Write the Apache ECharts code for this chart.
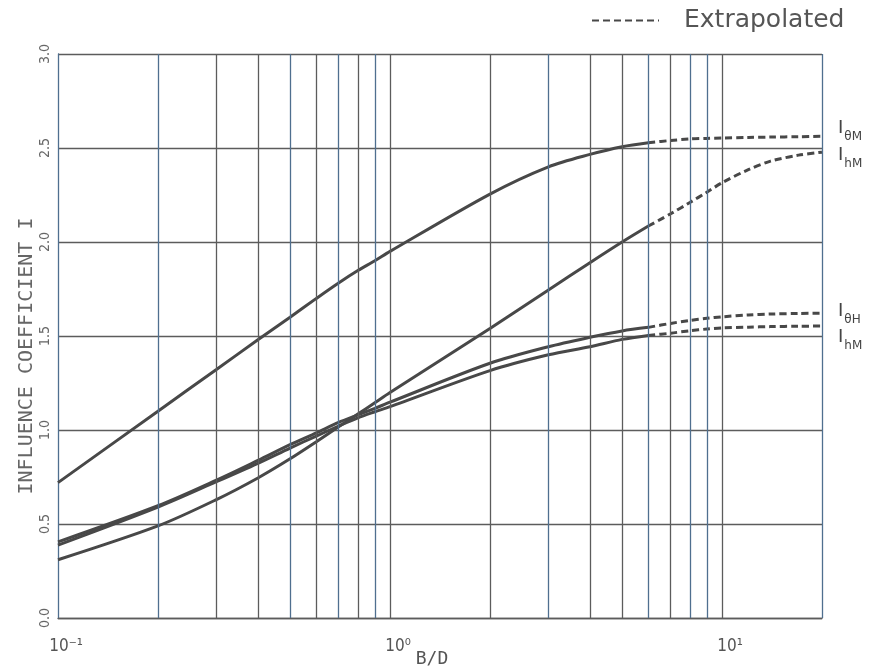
<!DOCTYPE html>
<html>
<head>
<meta charset="utf-8">
<script src="https://cdn.jsdelivr.net/npm/echarts@6/dist/echarts.min.js"></script>
<style>html,body{margin:0;padding:0;background:#fff;}#c{width:873px;height:671px;}</style>
</head>
<body>
<div id="c"></div>
<script>
// ---- data ----
const xSolid = [0.1, 0.2, 0.3, 0.4, 0.5, 0.6, 0.7, 0.8, 0.9, 1, 2, 3, 4, 5, 6];
const xDash = [6, 7, 8, 9, 10, 12, 14, 17, 20];

const thetaMSolid = [0.72, 1.10, 1.322, 1.48, 1.60, 1.70, 1.782, 1.848, 1.90, 1.95, 2.255, 2.40, 2.466, 2.507, 2.528];
const thetaMDash = [2.528, 2.54, 2.548, 2.551, 2.553, 2.556, 2.558, 2.56, 2.562];

const hMUpperSolid = [0.31, 0.49, 0.63, 0.745, 0.847, 0.938, 1.017, 1.085, 1.145, 1.199, 1.54, 1.745, 1.89, 2.0, 2.085];
const hMUpperDash = [2.085, 2.15, 2.21, 2.265, 2.315, 2.385, 2.43, 2.462, 2.478];

const thetaHSolid = [0.405, 0.597, 0.733, 0.838, 0.922, 0.985, 1.04, 1.08, 1.115, 1.148, 1.355, 1.443, 1.493, 1.527, 1.546];
const thetaHDash = [1.546, 1.567, 1.583, 1.594, 1.602, 1.612, 1.617, 1.62, 1.621];

const hMLowerSolid = [0.388, 0.59, 0.725, 0.823, 0.904, 0.968, 1.021, 1.065, 1.097, 1.124, 1.316, 1.40, 1.443, 1.482, 1.503];
const hMLowerDash = [1.503, 1.515, 1.528, 1.537, 1.543, 1.547, 1.55, 1.552, 1.553];

const curveNames = ['θM', 'hM', 'θH', 'hM'];

const xTickValues = [0.1, 1, 10];
const xTickLabels = ['10⁻¹', '10⁰', '10¹'];
const xGridBlue = [0.2, 0.5, 0.7, 0.9, 3, 6, 8, 9, 20];
const xGridGray = [0.3, 0.4, 0.6, 0.8, 1, 2, 4, 5, 7, 10];

const yTicks = [0, 0.5, 1.0, 1.5, 2.0, 2.5, 3.0];

// ---- chart ----
const pairs = (xs, ys) => xs.map((x, i) => [x, ys[i]]);
const CURVE = '#484848';
const BLUE = '#4f6f8f';
const GRAY = '#5c5c5c';

const solids = [thetaMSolid, hMUpperSolid, thetaHSolid, hMLowerSolid];
const dashes = [thetaMDash, hMUpperDash, thetaHDash, hMLowerDash];
const labelOffsets = [[0, -6], [0, 5], [0, 0], [0, 13]];

const series = [];
series.push({
  type: 'line', name: 'grid', data: [], silent: true, z: 1,
  markLine: {
    silent: true, symbol: 'none', animation: false,
    label: { show: false },
    data: xGridBlue.map(v => ({ xAxis: v, lineStyle: { color: BLUE, width: 1.3, type: 'solid' } }))
      .concat(xGridGray.map(v => ({ xAxis: v, lineStyle: { color: GRAY, width: 1.3, type: 'solid' } })))
  }
});
solids.forEach((ys, k) => {
  series.push({
    type: 'line', name: 'I' + curveNames[k] + ' measured', data: pairs(xSolid, ys),
    smooth: 0.3, symbol: 'none', z: 3,
    lineStyle: { color: CURVE, width: 3 }
  });
});
dashes.forEach((ys, k) => {
  series.push({
    type: 'line', name: 'Extrapolated', data: pairs(xDash, ys),
    smooth: 0.3, symbol: 'none', z: 3,
    itemStyle: { color: CURVE },
    lineStyle: { color: CURVE, width: 3, type: [7, 4] },
    endLabel: {
      show: true, distance: 16, offset: labelOffsets[k],
      formatter: '{i|I}{s|' + curveNames[k] + '}',
      rich: {
        i: { fontFamily: 'DejaVu Sans', fontSize: 18, color: '#444', lineHeight: 22, verticalAlign: 'top' },
        s: { fontFamily: 'DejaVu Sans', fontSize: 12, color: '#444', lineHeight: 12, padding: [12, 0, 0, 1], verticalAlign: 'top' }
      }
    }
  });
});

const chart = echarts.init(document.getElementById('c'), null, { renderer: 'canvas' });
chart.setOption({
  animation: false,
  backgroundColor: '#fff',
  grid: { left: 58, right: 51, top: 54, bottom: 53, show: false, containLabel: false, outerBoundsMode: 'none' },
  legend: {
    show: true,
    data: ['Extrapolated'], left: 586, top: 3,
    itemWidth: 67, itemHeight: 14,
    lineStyle: { width: 2 },
    itemStyle: { opacity: 0 },
    textStyle: { fontFamily: 'DejaVu Sans', fontSize: 25, color: '#555', padding: [0, 0, 0, 20] },
    selectedMode: false
  },
  xAxis: {
    type: 'log', logBase: 10, min: 0.1, max: 20,
    name: 'B/D', nameLocation: 'middle', nameGap: 32, nameMoveOverlap: false,
    nameTextStyle: { fontFamily: 'DejaVu Sans Mono', fontSize: 18, color: '#555', padding: [0, 16, 0, 0] },
    axisLine: { show: true, lineStyle: { color: GRAY, width: 1.3 } },
    axisTick: { show: false },
    splitLine: { show: false },
    axisLabel: {
      margin: 20, fontFamily: 'DejaVu Sans Condensed, DejaVu Sans', fontSize: 17, color: '#555',
      formatter: v => {
        const i = xTickValues.findIndex(t => Math.abs(Math.log10(t) - Math.log10(v)) < 1e-6);
        return i >= 0 ? '{sp|}{n|' + xTickLabels[i] + '}' : '';
      },
      rich: { sp: { width: 16 }, n: { fontFamily: 'DejaVu Sans Condensed, DejaVu Sans', fontSize: 17, color: '#555' } }
    }
  },
  yAxis: {
    type: 'value', min: 0, max: 3, interval: 0.5,
    name: 'INFLUENCE COEFFICIENT I', nameLocation: 'middle', nameGap: 21, nameRotate: 90, nameMoveOverlap: false,
    nameTextStyle: { fontFamily: 'DejaVu Sans Mono', fontSize: 20, color: '#666', padding: [0, 40, 0, 0] },
    axisLine: { show: true, lineStyle: { color: BLUE, width: 1.3 } },
    axisTick: { show: false },
    splitLine: { show: true, lineStyle: { color: GRAY, width: 1.3 } },
    axisLabel: {
      rotate: 90, margin: 6,
      fontFamily: 'DejaVu Sans Condensed, DejaVu Sans', fontSize: 14, color: '#666',
      formatter: v => {
        const i = yTicks.findIndex(t => Math.abs(t - v) < 1e-9);
        return i >= 0 ? yTicks[i].toFixed(1) : '';
      }
    }
  },
  series: series
});
</script>
</body>
</html>
